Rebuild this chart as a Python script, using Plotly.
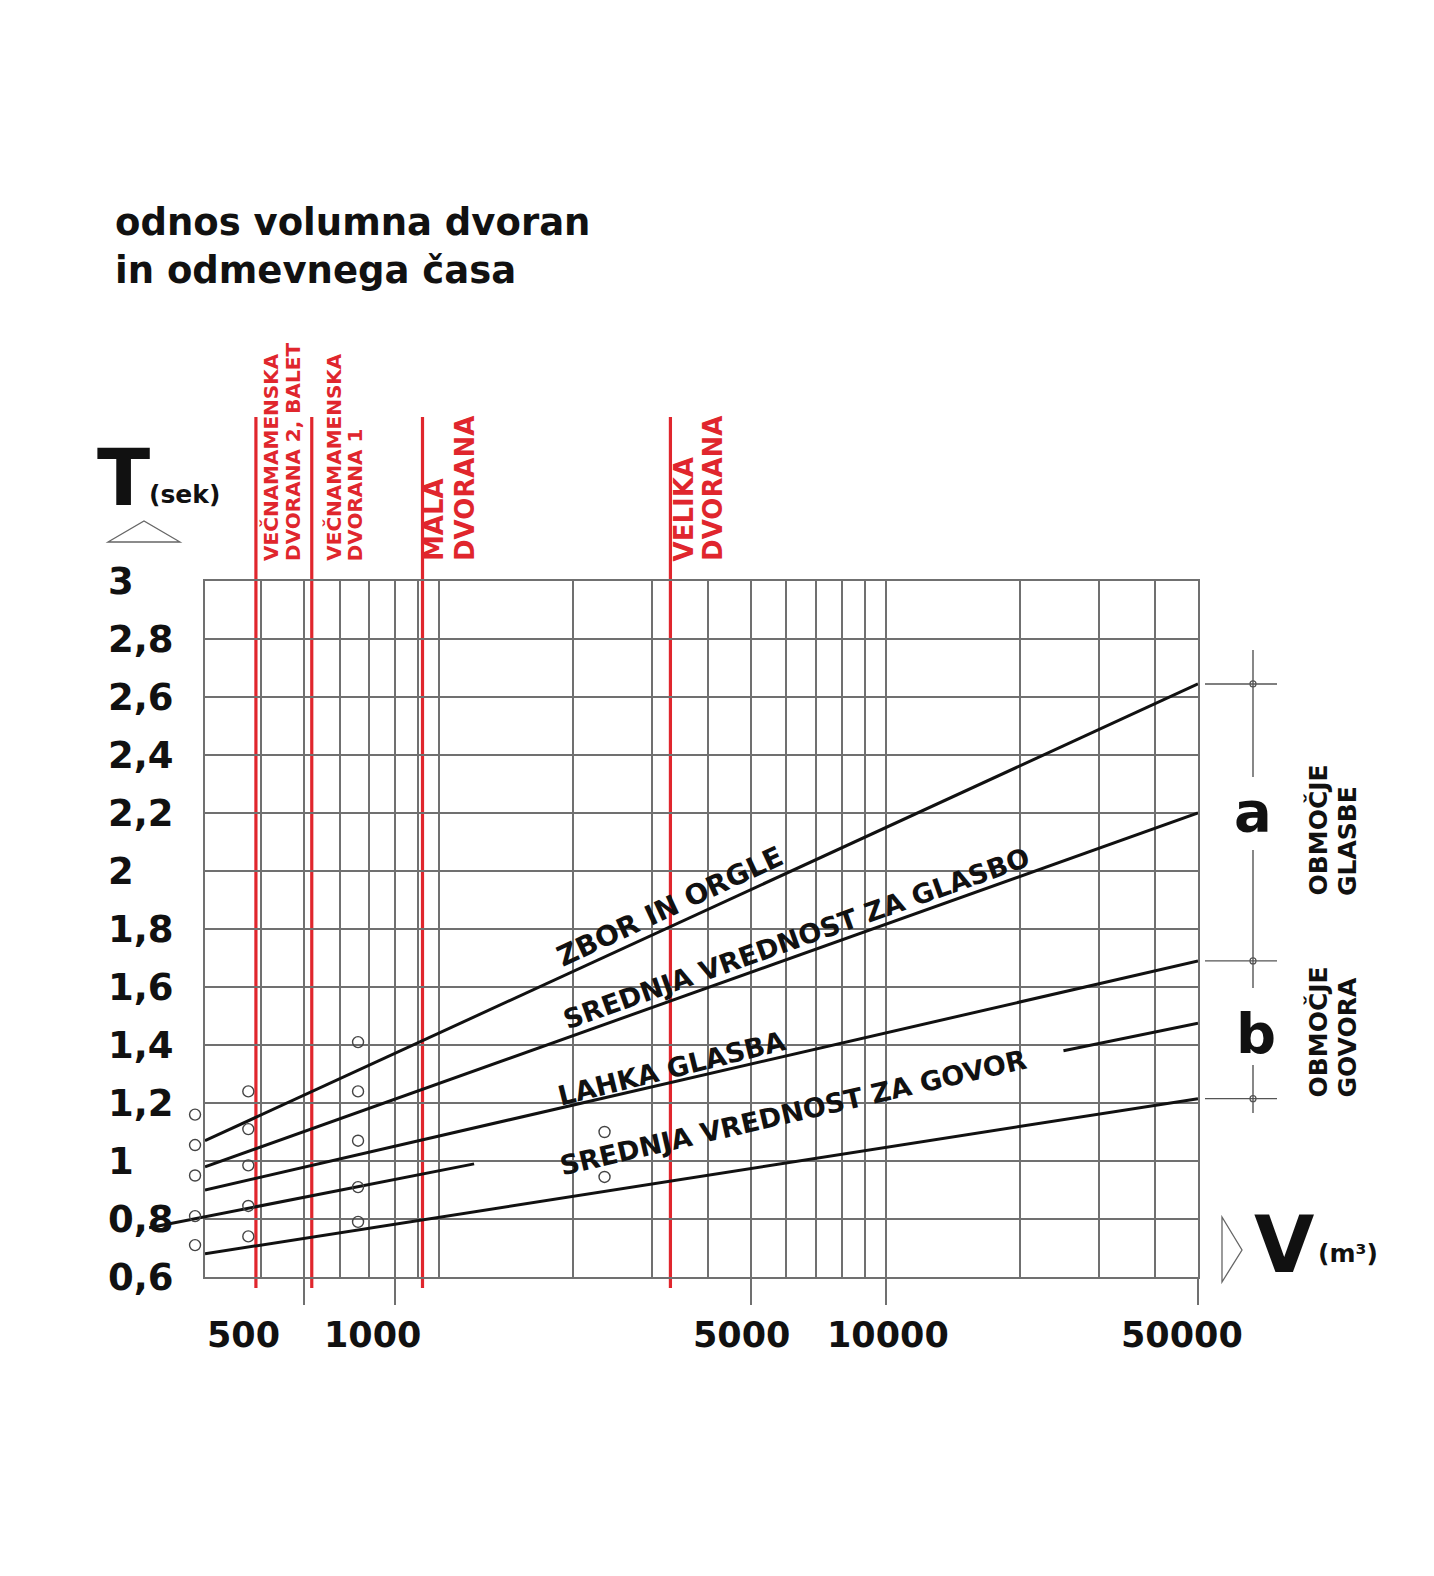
import math
import plotly.graph_objects as go

# ---------------- data ----------------
x_range = [300, 50000]
y_range = [0.6, 3.0]

x_major_ticks = [500, 800, 5000, 10000, 50000]
x_minor_grid = [400, 600, 700, 900, 1000, 2000, 3000, 4000,
                6000, 7000, 8000, 9000, 20000, 30000, 40000]
x_tick_labels = ["500", "1000", "5000", "10000", "50000"]

y_ticks = [0.6, 0.8, 1.0, 1.2, 1.4, 1.6, 1.8, 2.0, 2.2, 2.4, 2.6, 2.8, 3.0]
y_tick_labels = ["0,6", "0,8", "1", "1,2", "1,4", "1,6", "1,8", "2",
                 "2,2", "2,4", "2,6", "2,8", "3"]

zbor_v = [300, 50000];      zbor_t = [1.07, 2.645]
glasba_v = [300, 50000];    glasba_t = [0.98, 2.20]
lahka_v = [300, 50000];     lahka_t = [0.90, 1.69]
govor_a_v = [225, 1200];    govor_a_t = [0.77, 0.99]
govor_b_v = [25000, 50000]; govor_b_t = [1.38, 1.475]
spodnja_v = [300, 50000];   spodnja_t = [0.68, 1.215]

line_labels = ["ZBOR IN ORGLE", "SREDNJA VREDNOST ZA GLASBO",
               "LAHKA GLASBA", "SREDNJA VREDNOST ZA GOVOR"]

meas_v = [285] * 5 + [375] * 5 + [660] * 5 + [2350] * 2
meas_t = [1.16, 1.055, 0.95, 0.81, 0.71,
          1.24, 1.11, 0.985, 0.845, 0.74,
          1.41, 1.24, 1.07, 0.91, 0.79,
          1.10, 0.945]

hall_v = [390, 520, 920, 3300]
hall_label_lines = [["VEČNAMAMENSKA", "DVORANA 2, BALET"],
                    ["VEČNAMAMENSKA", "DVORANA 1"],
                    ["MALA", "DVORANA"],
                    ["VELIKA", "DVORANA"]]

range_bounds_t = [2.645, 1.69, 1.215]
range_letters = ["a", "b"]
range_names = [["OBMOČJE", "GLASBE"], ["OBMOČJE", "GOVORA"]]

# ---------------- layout geometry (pixels) ----------------
W, H = 1434, 1576
PL, PR, PT, PB = 205, 1198, 581, 1277   # main plot frame
EXT_L = 140                               # left edge of extended drawing area
FONT = "DejaVu Sans"
GRID = "#707070"
RED = "#e0262d"
INK = "#111111"


def px(x):
    return (x - EXT_L) / (PR - EXT_L)


def py(y):
    return (PB - y) / (PB - PT)


dom0 = (PL - EXT_L) / (PR - EXT_L)
lx0, lx1 = math.log10(x_range[0]), math.log10(x_range[1])
x2_left = lx0 - (PL - EXT_L) / (PR - PL) * (lx1 - lx0)

fig = go.Figure()


def add_line(v, t, axis="x"):
    fig.add_trace(go.Scatter(x=v, y=t, mode="lines", xaxis=axis, yaxis="y",
                             line=dict(color=INK, width=3),
                             hoverinfo="skip", showlegend=False))


add_line(zbor_v, zbor_t)
add_line(glasba_v, glasba_t)
add_line(lahka_v, lahka_t)
add_line(govor_a_v, govor_a_t, axis="x2")
add_line(govor_b_v, govor_b_t)
add_line(spodnja_v, spodnja_t)

fig.add_trace(go.Scatter(x=meas_v, y=meas_t, mode="markers", xaxis="x2", yaxis="y",
                         cliponaxis=False,
                         marker=dict(symbol="circle-open", size=11, color="#444",
                                     line=dict(width=1.4, color="#444")),
                         hoverinfo="skip", showlegend=False))

shapes = []
# horizontal grid lines
for t in y_ticks[1:-1]:
    shapes.append(dict(type="line", xref="x", yref="y", x0=x_range[0], x1=x_range[1],
                       y0=t, y1=t, line=dict(color=GRID, width=1.8), layer="below"))
# red hall lines
for v in hall_v:
    shapes.append(dict(type="line", xref="x", yref="paper", x0=v, x1=v,
                       y0=py(1288), y1=py(417), line=dict(color=RED, width=3.2),
                       layer="below"))
# bracket at right
for t in range_bounds_t:
    shapes.append(dict(type="line", xref="paper", yref="y", x0=px(1205), x1=px(1277),
                       y0=t, y1=t, line=dict(color="#555", width=1.4)))
    shapes.append(dict(type="circle", xref="paper", yref="y", xsizemode="pixel",
                       ysizemode="pixel", xanchor=px(1253), yanchor=t,
                       x0=-3, x1=3, y0=-3, y1=3, line=dict(color="#555", width=1.2)))
for a, b in [(650, 777), (850, 988), (1065, 1113)]:
    shapes.append(dict(type="line", xref="paper", yref="paper", x0=px(1253), x1=px(1253),
                       y0=py(a), y1=py(b), line=dict(color="#555", width=1.4)))
# axis arrows (open triangles)
tri_t = [(108, 542), (144, 521), (180, 542)]
tri_v = [(1222, 1217), (1242, 1250), (1222, 1282)]
for tri in (tri_t, tri_v):
    path = "M " + " L ".join(f"{px(a):.5f},{py(b):.5f}" for a, b in tri) + " Z"
    shapes.append(dict(type="path", xref="paper", yref="paper", path=path,
                       line=dict(color="#666", width=1.3)))

ann = []


def text(t, x, y, size, color=INK, angle=0, xanchor="center", yanchor="middle",
         xref="paper", yref="paper", **kw):
    ann.append(dict(text=f"<b>{t}</b>", x=x, y=y, xref=xref, yref=yref,
                    showarrow=False, textangle=angle, xanchor=xanchor,
                    yanchor=yanchor, font=dict(family=FONT, size=size, color=color),
                    **kw))


text("odnos volumna dvoran<br>in odmevnega časa", px(113), py(246), 37,
     xanchor="left", align="left")
text("T", px(123), py(478), 78)
text("(sek)", px(184), py(494), 25)
text("V", px(1284), py(1245), 78)
text("(m³)", px(1348), py(1253), 25)

for t, lab in zip(y_ticks, y_tick_labels):
    text(lab, px(106), t, 37, xanchor="left", yref="y")

x_tick_label_px = [243, 372, 741, 888, 1182]
for cx, lab in zip(x_tick_label_px, x_tick_labels):
    text(lab, px(cx), py(1335), 35)

line_label_pos = [(670, 906, -25, 28), (796, 938, -19.5, 27),
                  (671, 1068, -14, 27), (793, 1112, -13, 27)]
for lab, (cx, cy, ang, sz) in zip(line_labels, line_label_pos):
    text(lab, px(cx), py(cy), sz, angle=ang)

hall_label_dx = [[15, 37], [22, 44], [12, 43], [14, 43]]
hall_label_size = [20, 20, 26, 26]
for v, lines, dxs, sz in zip(hall_v, hall_label_lines, hall_label_dx, hall_label_size):
    for lab, dx in zip(lines, dxs):
        text(lab, math.log10(v), py(563), sz, color=RED, angle=-90,
             xref="x", yanchor="bottom", xshift=dx)

text(range_letters[0], px(1253), py(811), 56)
text(range_letters[1], px(1256), py(1033), 56)
for names, bottom in zip(range_names, [898, 1100]):
    for lab, cx in zip(names, [1317, 1347]):
        text(lab, px(cx), py(bottom), 25, angle=-90, yanchor="bottom")

fig.update_layout(
    width=W, height=H,
    margin=dict(l=EXT_L, r=W - PR, t=PT, b=H - PB, pad=0),
    paper_bgcolor="white", plot_bgcolor="rgba(0,0,0,0)",
    showlegend=False,
    xaxis=dict(type="log", range=[lx0, lx1], domain=[dom0, 1], anchor="y",
               showline=True, mirror=True, linecolor=GRID, linewidth=2,
               showgrid=True, gridcolor=GRID, gridwidth=1.8,
               tickvals=x_major_ticks, ticks="outside", ticklen=26,
               tickcolor=GRID, tickwidth=1.6, showticklabels=False,
               minor=dict(tickvals=x_minor_grid, showgrid=True, gridcolor=GRID,
                          gridwidth=1.8, ticks=""),
               zeroline=False, fixedrange=True),
    xaxis2=dict(type="log", range=[x2_left, lx1], domain=[0, 1], anchor="y",
                visible=False, fixedrange=True),
    yaxis=dict(range=y_range, anchor="x", showline=True, mirror=True,
               linecolor=GRID, linewidth=2, showgrid=False, showticklabels=False,
               ticks="", zeroline=False, fixedrange=True),
    shapes=shapes,
    annotations=ann,
)

fig.write_html("out.html", config={"displayModeBar": False},
               post_script="document.body.style.margin='0';document.body.style.overflow='hidden';")
